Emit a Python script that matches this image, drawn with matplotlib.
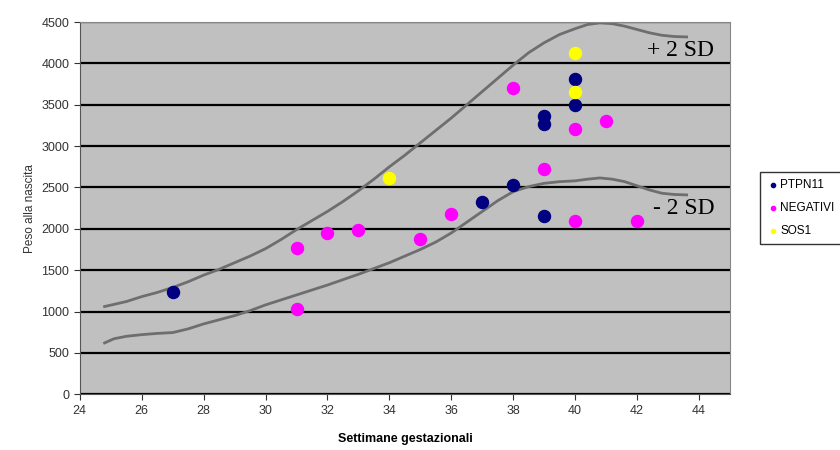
import numpy as np
import matplotlib.pyplot as plt

plt.rcParams['font.family'] = ['Liberation Sans', 'DejaVu Sans']

# data
ptpn11_x = [27, 37, 38, 39, 39, 39, 40, 40]
ptpn11_y = [1230, 2320, 2530, 3360, 3270, 2150, 3810, 3500]

negativi_x = [31, 31, 32, 33, 35, 36, 38, 39, 40, 40, 41, 42]
negativi_y = [1770, 1030, 1950, 1990, 1880, 2180, 3700, 2720, 3210, 2100, 3300, 2100]

sos1_x = [34, 40, 40]
sos1_y = [2620, 4120, 3660]

# reference curves (+2 SD / -2 SD)
upper_x = [24.8, 25.5, 26, 26.5, 27, 27.5, 28, 28.5, 29, 29.5, 30, 30.5, 31, 31.5, 32, 32.5, 33, 33.5,
           34, 34.5, 35, 35.5, 36, 36.5, 37, 37.5, 38, 38.5, 39, 39.5, 40, 40.4, 40.8, 41.2, 41.6,
           42, 42.4, 42.8, 43.2, 43.6]
upper_y = [1060, 1120, 1180, 1230, 1290, 1360, 1440, 1510, 1590, 1670, 1760, 1870, 1990, 2100, 2210, 2330,
           2460, 2600, 2750, 2890, 3040, 3190, 3340, 3500, 3660, 3820, 3980, 4130, 4250, 4350, 4420, 4470,
           4490, 4480, 4450, 4410, 4370, 4340, 4325, 4320]
lower_x = [24.8, 25.1, 25.5, 26, 26.5, 27, 27.5, 28, 28.5, 29, 29.5, 30, 30.5, 31, 31.5, 32, 32.5, 33,
           33.5, 34, 34.5, 35, 35.5, 36, 36.5, 37, 37.5, 38, 38.5, 39, 39.5, 40, 40.4, 40.8, 41.2,
           41.6, 42, 42.4, 42.8, 43.2, 43.6]
lower_y = [620, 670, 700, 720, 735, 745, 790, 850, 900, 950, 1010, 1080, 1140, 1200, 1260, 1320, 1385, 1450,
           1520, 1590, 1670, 1750, 1840, 1950, 2080, 2210, 2340, 2450, 2510, 2550, 2570, 2580, 2600, 2615, 2600,
           2570, 2520, 2470, 2430, 2415, 2410]

fig = plt.figure(figsize=(8.4, 4.5), dpi=100)
ax = fig.add_axes([0.095, 0.124, 0.774, 0.827])
ax.set_facecolor("#c0c0c0")

ax.set_xlim(24, 45)
ax.set_ylim(0, 4500)
ax.set_xticks(np.arange(24, 45, 2))
ax.set_yticks(np.arange(0, 4501, 500))
ax.yaxis.grid(True, color="black", linewidth=1.6)
ax.set_axisbelow(True)

ax.plot(upper_x, upper_y, color="#6e6e6e", linewidth=2, zorder=2)
ax.plot(lower_x, lower_y, color="#6e6e6e", linewidth=2, zorder=2)

ax.scatter(ptpn11_x, ptpn11_y, s=75, color="#000080", label="PTPN11", zorder=3)
ax.scatter(negativi_x, negativi_y, s=75, color="#ff00ff", label="NEGATIVI", zorder=3)
ax.scatter(sos1_x, sos1_y, s=75, color="#ffff00", label="SOS1", zorder=3)

ax.text(44.5, 4150, "+ 2 SD", family="Liberation Serif", fontsize=17, ha="right", va="center", zorder=4)
ax.text(44.5, 2240, "- 2 SD", family="Liberation Serif", fontsize=17, ha="right", va="center", zorder=4)

for side in ["top", "right"]:
    ax.spines[side].set_color("#888888")
ax.spines["left"].set_color("#555555")
ax.spines["bottom"].set_color("#555555")
ax.tick_params(labelsize=9, colors="#333333", length=4)

ax.set_ylabel("Peso alla nascita", fontsize=8.5, color="#333333")
ax.set_xlabel("Settimane gestazionali", fontsize=9, fontweight="bold", labelpad=12)

leg = fig.legend(loc="upper left", bbox_to_anchor=(0.898, 0.63), fontsize=8.5, frameon=True,
                 fancybox=False, edgecolor="black", markerscale=0.35, handletextpad=0.1,
                 borderpad=0.6, labelspacing=0.9, handlelength=1)
leg.get_frame().set_linewidth(1)

fig.savefig("out.png", dpi=100)
